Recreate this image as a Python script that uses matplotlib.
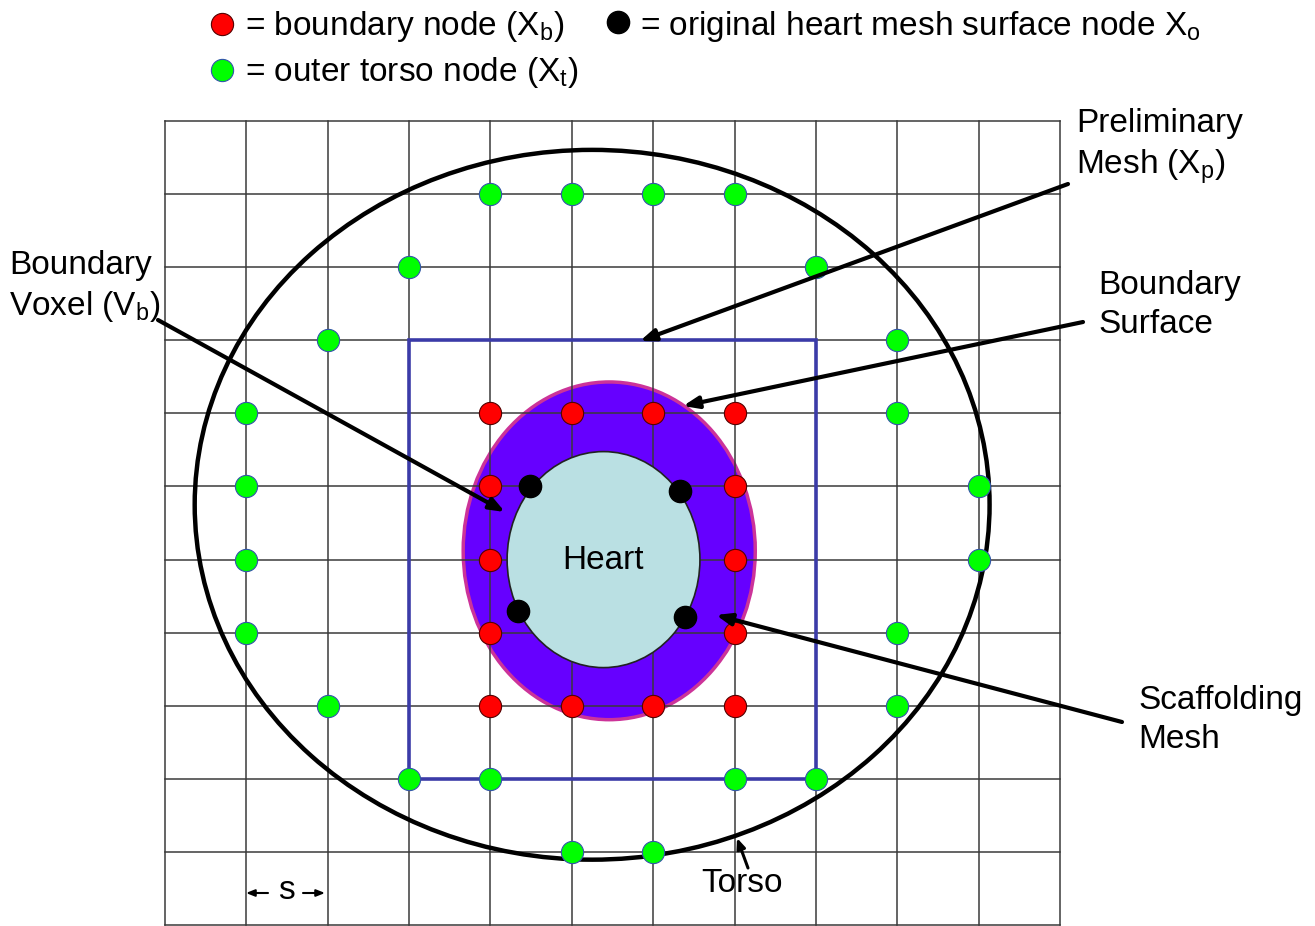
import matplotlib
matplotlib.use("Agg")
import matplotlib.pyplot as plt
from matplotlib.patches import Ellipse, Rectangle

plt.rcParams['font.family'] = ['Liberation Sans', 'DejaVu Sans']
plt.rcParams['mathtext.fontset'] = 'custom'
plt.rcParams['mathtext.rm'] = 'Liberation Sans'

# ---- diagram data (grid units: column, row) ----
n_cols = 11
n_rows = 11
green_cols = [4, 5, 6, 7, 3, 8, 2, 9, 1, 9, 1, 10, 1, 10, 1, 9, 2, 9, 3, 4, 7, 8, 5, 6]
green_rows = [1, 1, 1, 1, 2, 2, 3, 3, 4, 4, 5, 5, 6, 6, 7, 7, 8, 8, 9, 9, 9, 9, 10, 10]
red_cols = [4, 5, 6, 7, 4, 7, 4, 7, 4, 7, 4, 5, 6, 7]
red_rows = [4, 4, 4, 4, 5, 5, 6, 6, 7, 7, 8, 8, 8, 8]
black_cols = [4.49, 6.33, 4.34, 6.39]
black_rows = [5.0, 5.06, 6.70, 6.78]
prelim_mesh = (3, 3, 8, 9)          # col0, row0, col1, row1
torso = (5.25, 5.25, 9.77, 9.71)   # cx, cy, w, h
boundary_surface = (5.46, 5.88, 3.59, 4.62)
heart = (5.39, 6.0, 2.37, 2.955)

# pixel geometry of the grid
X0, DX = 165.0, 81.36
Y0, DY = 121.0, 73.1
W, H = 1315, 926


def gx(px):
    return (px - X0) / DX


def gy(py):
    return (py - Y0) / DY


fig = plt.figure(figsize=(W / 100, H / 100), dpi=100)
ax = fig.add_axes([0, 0, 1, 1])
ax.set_xlim(gx(0), gx(W))
ax.set_ylim(gy(H), gy(0))
ax.axis('off')

# boundary surface (purple)
bs = Ellipse((boundary_surface[0], boundary_surface[1]), boundary_surface[2], boundary_surface[3],
             facecolor='#6600FF', edgecolor='#CC3399', lw=2.5, zorder=1)
ax.add_patch(bs)

# grid
for c in range(n_cols + 1):
    ax.plot([c, c], [0, n_rows], color='#3a3a3a', lw=1.1, zorder=2)
for r in range(n_rows + 1):
    ax.plot([0, n_cols], [r, r], color='#3a3a3a', lw=1.1, zorder=2)

# heart
ax.add_patch(Ellipse((heart[0], heart[1]), heart[2], heart[3],
                     facecolor='#BAE0E3', edgecolor='#222222', lw=1.2, zorder=3))

# preliminary mesh
c0, r0, c1, r1 = prelim_mesh
ax.add_patch(Rectangle((c0, r0), c1 - c0, r1 - r0, fill=False,
                       edgecolor='#3B3BA8', lw=2.6, zorder=4))

# torso
ax.add_patch(Ellipse((torso[0], torso[1]), torso[2], torso[3], fill=False,
                     edgecolor='black', lw=3.2, zorder=4))

# nodes
ms = 16
ax.plot(green_cols, green_rows, 'o', ms=ms, mfc='#00FF00', mec='#3355AA', mew=0.8, zorder=6)
ax.plot(red_cols, red_rows, 'o', ms=ms, mfc='#FF0000', mec='#550000', mew=0.8, zorder=6)
ax.plot(black_cols, black_rows, 'o', ms=ms, mfc='black', mec='black', zorder=6)

fs = 24
ls = 1.32
ax.text(gx(603), gy(561), 'Heart', fontsize=fs, ha='center', va='center', zorder=7)

# legend
ax.plot([gx(222)], [gy(24)], 'o', ms=ms, mfc='#FF0000', mec='#550000', mew=0.8, clip_on=False)
ax.text(gx(245), gy(27), '= boundary node (X$_\\mathrm{b}$)', fontsize=fs, va='center')
ax.plot([gx(618)], [gy(22)], 'o', ms=ms, mfc='black', mec='black', clip_on=False)
ax.text(gx(640), gy(27), '= original heart mesh surface node X$_\\mathrm{o}$', fontsize=fs, va='center')
ax.plot([gx(222)], [gy(70)], 'o', ms=ms, mfc='#00FF00', mec='#3355AA', mew=0.8, clip_on=False)
ax.text(gx(245), gy(73), '= outer torso node (X$_\\mathrm{t}$)', fontsize=fs, va='center')

arrow = dict(arrowstyle='-|>,head_length=0.9,head_width=0.35', color='black', lw=3,
             shrinkA=0, shrinkB=0)

ax.text(gx(1076), gy(147), 'Preliminary\nMesh (X$_\\mathrm{p}$)', fontsize=fs, va='center',
        linespacing=ls)
ax.annotate('', xy=(gx(640), gy(341)), xytext=(gx(1068), gy(184)), arrowprops=arrow, zorder=8)

ax.text(gx(1098), gy(305), 'Boundary\nSurface', fontsize=fs, va='center', linespacing=ls)
ax.annotate('', xy=(gx(683), gy(406)), xytext=(gx(1083), gy(322)), arrowprops=arrow, zorder=8)

ax.text(gx(9), gy(287), 'Boundary\nVoxel (V$_\\mathrm{b}$)', fontsize=fs, va='center',
        linespacing=ls)
ax.annotate('', xy=(gx(505), gy(512)), xytext=(gx(158), gy(320)), arrowprops=arrow, zorder=8)

ax.text(gx(1138), gy(720), 'Scaffolding\nMesh', fontsize=fs, va='center', linespacing=ls)
ax.annotate('', xy=(gx(716), gy(615)), xytext=(gx(1122), gy(722)), arrowprops=arrow, zorder=8)

ax.text(gx(742), gy(884), 'Torso', fontsize=fs, ha='center', va='center')
ax.annotate('', xy=(gx(737), gy(838)), xytext=(gx(748), gy(868)),
            arrowprops=dict(arrowstyle='-|>,head_length=0.6,head_width=0.25', color='black',
                            lw=2.2, shrinkA=0, shrinkB=0), zorder=8)

# spacing marker
ax.text(gx(286), gy(891), 's', fontsize=fs, ha='center', va='center')
small = dict(arrowstyle='-|>,head_length=0.5,head_width=0.2', color='black', lw=1.5,
             shrinkA=0, shrinkB=0)
ax.annotate('', xy=(gx(246), gy(893)), xytext=(gx(268), gy(893)), arrowprops=small)
ax.annotate('', xy=(gx(325), gy(893)), xytext=(gx(303), gy(893)), arrowprops=small)

fig.savefig('out.png', dpi=100)
